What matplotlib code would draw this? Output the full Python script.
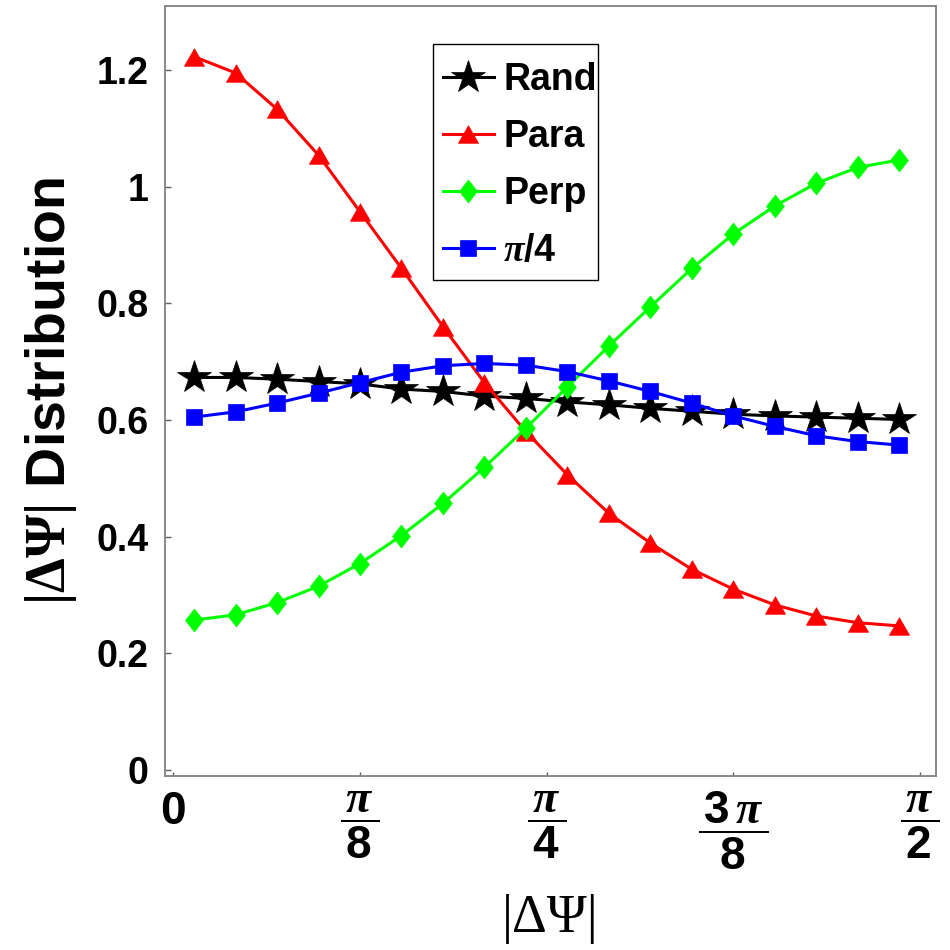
import numpy as np
import matplotlib
matplotlib.use("Agg")
import matplotlib.pyplot as plt
from matplotlib.patches import Rectangle

# ---- data -----------------------------------------------------------
angles_deg = [2.5, 7.5, 12.5, 17.5, 22.5, 27.5, 32.5, 37.5, 42.5,
              47.5, 52.5, 57.5, 62.5, 67.5, 72.5, 77.5, 82.5, 87.5]

rand_vals = [0.673, 0.673, 0.670, 0.666, 0.662, 0.653, 0.649, 0.641, 0.637,
             0.631, 0.626, 0.620, 0.615, 0.610, 0.607, 0.605, 0.603, 0.601]
para_vals = [1.223, 1.195, 1.133, 1.054, 0.957, 0.860, 0.760, 0.664, 0.580,
             0.506, 0.440, 0.389, 0.344, 0.310, 0.283, 0.264, 0.2525, 0.247]
perp_vals = [0.257, 0.266, 0.287, 0.315, 0.354, 0.402, 0.457, 0.519, 0.586,
             0.657, 0.727, 0.794, 0.860, 0.919, 0.967, 1.006, 1.033, 1.046]
pi4_vals = [0.605, 0.614, 0.629, 0.646, 0.664, 0.682, 0.693, 0.697, 0.694,
            0.683, 0.667, 0.649, 0.629, 0.607, 0.589, 0.573, 0.563, 0.557]

series_labels = ["Rand", "Para", "Perp", r"$\pi$/4"]
x_tick_labels = [r"$0$", r"$\dfrac{\,\pi\,}{\,8\,}$", r"$\dfrac{\,\pi\,}{\,4\,}$",
                 r"$\dfrac{\,3\,\pi\,}{8}$", r"$\dfrac{\,\pi\,}{\,2\,}$"]
y_tick_values = [0, 0.2, 0.4, 0.6, 0.8, 1.0, 1.2]
y_tick_labels = ["0", "0.2", "0.4", "0.6", "0.8", "1", "1.2"]

# ---- style ----------------------------------------------------------
plt.rcParams['font.family'] = ['Liberation Sans', 'DejaVu Sans']
plt.rcParams['font.weight'] = 'bold'
plt.rcParams['mathtext.fontset'] = 'custom'
plt.rcParams['mathtext.rm'] = 'Liberation Sans:bold'
plt.rcParams['mathtext.bf'] = 'Liberation Sans:bold'
plt.rcParams['mathtext.it'] = 'Liberation Serif:italic'
plt.rcParams['mathtext.sf'] = 'Liberation Serif'

x = np.deg2rad(angles_deg)

fig = plt.figure(figsize=(9.5, 9.5), dpi=100)
ax = fig.add_axes([165/950, 1 - 776/950, 771/950, 770/950])

diamond = [(0, 1), (0.78, 0), (0, -1), (-0.78, 0), (0, 1)]
triangle = [(0, 0.87), (1, -0.87), (-1, -0.87), (0, 0.87)]

lw = 2.2
ax.plot(x, rand_vals, color='black', lw=lw, marker='*', ms=25,
        mec='black', mew=0.5, label=series_labels[0])
ax.plot(x, para_vals, color='#ff0000', lw=lw, marker=triangle, ms=14.5,
        mec='#ff0000', mew=0.5, label=series_labels[1])
ax.plot(x, perp_vals, color='#00ff00', lw=lw, marker=diamond, ms=16.5,
        mec='#00ff00', mew=0.5, label=series_labels[2])
ax.plot(x, pi4_vals, color='#0000ff', lw=lw, marker='s', ms=12.2,
        mec='#0000ff', mew=0.5, label=series_labels[3])

ax.set_xlim(-0.0175, 1.6043)
ax.set_ylim(-0.0103, 1.3098)

ax.set_xticks([0, np.pi/8, np.pi/4, 3*np.pi/8, np.pi/2])
ax.set_xticklabels(x_tick_labels, fontsize=33)
ax.set_yticks(y_tick_values)
ax.set_yticklabels(y_tick_labels, fontsize=27, fontweight='bold')

for s in ax.spines.values():
    s.set_color('#808080')
    s.set_linewidth(1.3)
ax.tick_params(axis='both', direction='in', color='#606060', width=1.0)
ax.tick_params(axis='x', length=3, pad=10)
ax.tick_params(axis='y', length=4, pad=12)

ax.set_xlabel(r"|ΔΨ|", fontsize=39, family='Liberation Serif',
              fontweight='normal', labelpad=15)
ax.set_ylabel(r"$\mathsf{|\Delta\Psi|}$ Distribution", fontsize=40,
              fontweight='bold', labelpad=12)

# legend frame drawn as a rectangle; legend entries without own frame
ax.add_patch(Rectangle((0.3476, 0.6442), 0.5616 - 0.3476, 0.9506 - 0.6442,
                       transform=ax.transAxes, fill=False, edgecolor='black',
                       lw=1.0, zorder=5))
leg = ax.legend(loc='upper left', bbox_to_anchor=(0.3606, 0.927),
                borderaxespad=0, frameon=False, handlelength=1.35,
                handletextpad=0.25, labelspacing=0.56, borderpad=0,
                numpoints=1,
                prop={'family': 'Liberation Sans', 'weight': 'bold', 'size': 27})

fig.savefig("out.png", dpi=100, facecolor='white')
